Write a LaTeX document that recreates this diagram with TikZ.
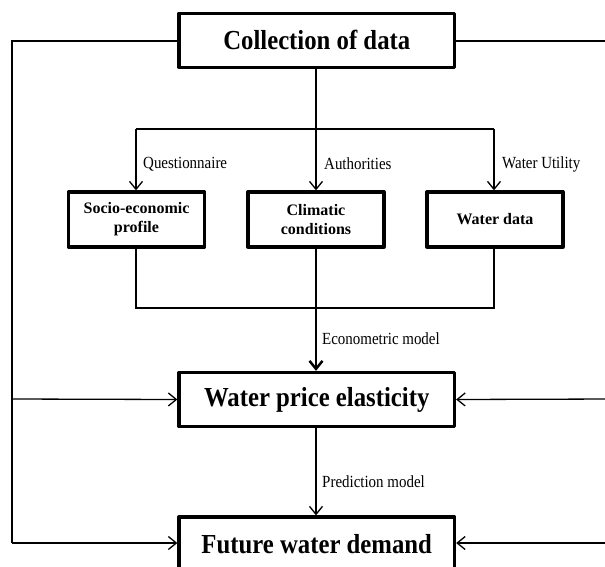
\documentclass[tikz,border=0pt]{standalone}
\usepackage{fontspec}
\setmainfont{Liberation Serif}
\newfontfamily\titlefont[FakeStretch=0.9]{Liberation Serif}
\newfontfamily\labfont[FakeStretch=0.88]{Liberation Serif}
\usetikzlibrary{arrows.meta}
\begin{document}
\begin{tikzpicture}[x=1pt,y=-1pt,
  bigbox/.style={draw,line width=3.3pt,line join=round,inner sep=0pt,minimum width=275.5pt,minimum height=54pt,font=\titlefont\fontsize{27.5}{30}\selectfont\bfseries},
  smallbox/.style={draw,line width=3.3pt,line join=round,inner sep=0pt,minimum width=136pt,minimum height=55pt,align=center,font=\fontsize{16}{19}\selectfont\bfseries},
  conn/.style={line width=1.3pt},
  trunk/.style={line width=2.5pt},
  arr/.style={-{Straight Barb[length=8pt,width=13pt]}},
  lab/.style={anchor=west,inner sep=0pt,font=\labfont\fontsize{17}{20}\selectfont}
]
\useasboundingbox (0,0) rectangle (605,566);
\fill[white] (0,0) rectangle (605,566);

\node[bigbox] (coll) at (316.75,40.2) {Collection of data};
\node[smallbox] (s1) at (136.5,219.5) {Socio-economic\\profile};
\node[smallbox] (s2) at (316,219.5) {Climatic\\conditions};
\node[smallbox] (s3) at (495,219.5) {Water data};
\node[bigbox] (el) at (316.75,399.5) {Water price elasticity};
\node[bigbox] (fu) at (316.75,544) {Future water demand};

\coordinate (br) at (316,129);
\coordinate (bl) at (136,129);
\coordinate (brr) at (494,129);
\coordinate (mg) at (316,308);
\coordinate (ml) at (136,308);
\coordinate (mr) at (494,308);
\coordinate (lt) at (12,41);
\coordinate (le) at (12,399);
\coordinate (lf) at (12,543);
\coordinate (rt) at (612,41);
\coordinate (re) at (612,399);
\coordinate (rf) at (612,543);

% top trunk and branches
\draw[trunk] (coll.south -| br) -- (br);
\draw[conn] (bl) -- (brr);
\draw[conn,arr] (bl) -- (s1.north -| bl);
\draw[conn,arr] (br) -- (s2.north -| br);
\draw[conn,arr] (brr) -- (s3.north -| brr);
\node[lab] (q) at (143,164) {Questionnaire};
\node[lab] (au) at (324,164) {Authorities};
\node[lab] (wu) at (502,164) {Water Utility};

% merge
\draw[conn] (s1.south -| ml) -- (ml) -- (mr) -- (s3.south -| mr);
\draw[conn] (s2.south -| mg) -- (mg);
\draw[trunk,arr] (mg) -- (el.north -| mg);
\node[lab] (em) at (322,339) {Econometric model};

% prediction
\draw[conn,arr] (el.south -| mg) -- (fu.north -| mg);
\node[lab] (pm) at (322,482) {Prediction model};

% side lines
\draw[conn] (coll.west |- lt) -- (lt) -- (lf);
\draw[conn,arr] (le) -- (el.west);
\draw[conn,arr] (lf) -- (fu.west |- lf);
\draw[conn] (coll.east |- rt) -- (rt) -- (rf);
\draw[conn,arr] (re) -- (el.east);
\draw[conn,arr] (rf) -- (fu.east |- rf);
\end{tikzpicture}
\end{document}
